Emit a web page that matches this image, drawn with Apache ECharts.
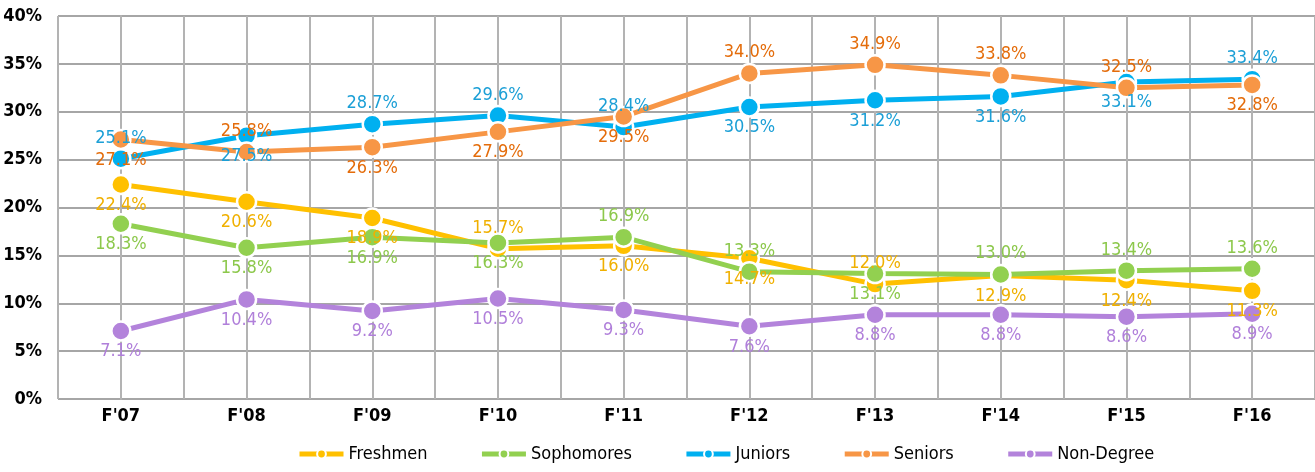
<!DOCTYPE html>
<html>
<head>
<meta charset="utf-8">
<script src="https://cdn.jsdelivr.net/npm/echarts@6/dist/echarts.min.js"></script>
<style>
  html, body { margin: 0; padding: 0; background: #fff; }
  #chart { width: 1315px; height: 472px; }
</style>
</head>
<body>
<div id="chart"></div>
<script>
// categories (fall terms)
var terms = ["F'07", "F'08", "F'09", "F'10", "F'11", "F'12", "F'13", "F'14", "F'15", "F'16"];

// share of students per class, in percent
var freshmen   = [22.4, 20.6, 18.9, 15.7, 16.0, 14.7, 12.0, 12.9, 12.4, 11.3];
var sophomores = [18.3, 15.8, 16.9, 16.3, 16.9, 13.3, 13.1, 13.0, 13.4, 13.6];
var juniors    = [25.1, 27.5, 28.7, 29.6, 28.4, 30.5, 31.2, 31.6, 33.1, 33.4];
var seniors    = [27.1, 25.8, 26.3, 27.9, 29.5, 34.0, 34.9, 33.8, 32.5, 32.8];
var nonDegree  = [7.1, 10.4, 9.2, 10.5, 9.3, 7.6, 8.8, 8.8, 8.6, 8.9];

// where each data label sits (t = above, b = below)
var freshmenPos   = 'bbbtbbtbbb';
var sophomoresPos = 'bbbbttbttt';
var juniorsPos    = 'tbtttbbbbt';
var seniorsPos    = 'btbbbttttb';
var nonDegreePos  = 'bbbbbbbbbb';

var FONT = "'Liberation Sans Narrow', 'DejaVu Sans Condensed', sans-serif";

function makeSeries(name, values, pos, lineColor, labelColor) {
  return {
    name: name,
    type: 'line',
    symbol: 'circle',
    symbolSize: 19,
    lineStyle: { width: 5, color: lineColor },
    itemStyle: { color: lineColor, borderColor: '#fff', borderWidth: 2.5 },
    emphasis: { disabled: true },
    data: values.map(function (v, i) {
      return {
        value: v,
        label: { position: pos[i] === 't' ? 'top' : 'bottom' }
      };
    }),
    label: {
      show: true,
      distance: 1,
      color: labelColor,
      fontFamily: FONT,
      fontSize: 18,
      textBorderWidth: 0,
      formatter: function (p) { return p.value.toFixed(1) + '%'; }
    }
  };
}

var chart = echarts.init(document.getElementById('chart'));
chart.setOption({
  animation: false,
  grid: { left: 58, right: 0, top: 16, bottom: 73 },
  legend: {
    left: 292,
    bottom: 4,
    itemGap: 52,
    itemWidth: 44,
    itemHeight: 11,
    lineStyle: { width: 5 },
    itemStyle: { borderColor: '#fff', borderWidth: 2 },
    textStyle: { fontFamily: FONT, fontSize: 18, color: '#000' },
    data: ['Freshmen', 'Sophomores', 'Juniors', 'Seniors', 'Non-Degree']
  },
  xAxis: [{
    type: 'category',
    data: terms,
    boundaryGap: true,
    axisLine: { show: false },
    axisTick: { show: false },
    axisLabel: { fontFamily: FONT, fontWeight: 'bold', fontSize: 18, color: '#000', margin: 8 },
    splitLine: { show: false }
  }, {
    type: 'value',
    min: -0.5,
    max: 9.5,
    interval: 0.5,
    position: 'bottom',
    axisLine: { show: false },
    axisTick: { show: false },
    axisLabel: { show: false },
    splitLine: { show: true, lineStyle: { color: '#b3b3b3', width: 2 } }
  }],
  yAxis: {
    type: 'value',
    min: 0,
    max: 40,
    interval: 5,
    axisLine: { show: true, lineStyle: { color: '#b3b3b3', width: 2 } },
    axisTick: { show: false },
    axisLabel: {
      fontFamily: FONT, fontWeight: 'bold', fontSize: 18, color: '#000', margin: 16,
      formatter: '{value}%'
    },
    splitLine: { lineStyle: { color: '#a6a6a6', width: 2 } }
  },
  series: [
    makeSeries('Freshmen', freshmen, freshmenPos, '#ffc000', '#f0b000'),
    makeSeries('Sophomores', sophomores, sophomoresPos, '#92d050', '#8cc84b'),
    makeSeries('Juniors', juniors, juniorsPos, '#00b0f0', '#1b9fd6'),
    makeSeries('Seniors', seniors, seniorsPos, '#f79646', '#e46c0a'),
    makeSeries('Non-Degree', nonDegree, nonDegreePos, '#b383db', '#b07fda')
  ]
});
</script>
</body>
</html>
